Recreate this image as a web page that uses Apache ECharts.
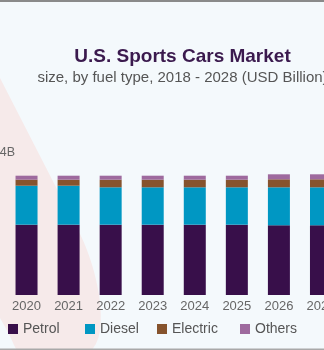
<!DOCTYPE html>
<html>
<head>
<meta charset="utf-8">
<script src="https://cdn.jsdelivr.net/npm/echarts@6/dist/echarts.min.js"></script>
<style>
  html, body { margin: 0; padding: 0; background: #f4f9fc; }
  #chart { width: 324px; height: 350px; }
</style>
</head>
<body>
<div id="chart"></div>
<script>
// Market size by fuel type, USD billion
const years = ['2020', '2021', '2022', '2023', '2024', '2025', '2026', '2027'];
const petrol = [7.03, 7.03, 7.03, 7.03, 7.03, 7.03, 6.97, 6.97];
const diesel = [3.9, 3.9, 3.74, 3.74, 3.74, 3.74, 3.8, 3.8];
const electric = [0.6, 0.6, 0.76, 0.76, 0.76, 0.76, 0.8, 0.8];
const others = [0.4, 0.4, 0.4, 0.4, 0.4, 0.4, 0.5, 0.5];

const seriesNames = ['Petrol', 'Diesel', 'Electric', 'Others'];
const seriesColors = ['#380f4a', '#0097c3', '#86532d', '#9e6a9e'];
const seriesData = [petrol, diesel, electric, others];
const legendLeft = [8, 85, 157, 240];

const FONT = '"Liberation Sans", Arial, sans-serif';

// Decorative teardrop shape in the background, traced from cubic segments
function bezierPoints(p0, p1, p2, p3, n) {
  const out = [];
  for (let k = 1; k <= n; k++) {
    const t = k / n, u = 1 - t;
    out.push([
      u*u*u*p0[0] + 3*u*u*t*p1[0] + 3*u*t*t*p2[0] + t*t*t*p3[0],
      u*u*u*p0[1] + 3*u*u*t*p1[1] + 3*u*t*t*p2[1] + t*t*t*p3[1]
    ]);
  }
  return out;
}
const dropPoints = [[-40, 0], [80, 234]]
  .concat(bezierPoints([80, 234], [92, 258], [104, 300], [100, 330], 16))
  .concat(bezierPoints([100, 330], [96, 372], [28, 382], [14, 345], 16))
  .concat(bezierPoints([14, 345], [6, 326], [-8, 305], [-20, 285], 10));

const chart = echarts.init(document.getElementById('chart'), null, { renderer: 'canvas' });

chart.setOption({
  backgroundColor: '#f4f9fc',
  animation: false,
  textStyle: { fontFamily: FONT },
  graphic: [
    {
      type: 'polygon',
      z: -10,
      silent: true,
      shape: { points: dropPoints },
      style: { fill: '#f6eaea' }
    },
    {
      type: 'rect', silent: true,
      shape: { x: 0, y: 0, width: 324, height: 2 },
      style: { fill: '#8a8a8a' }
    },
    {
      type: 'rect', silent: true,
      shape: { x: 0, y: 348.5, width: 324, height: 1.5 },
      style: { fill: '#a9a9a9' }
    },
    {
      type: 'text', silent: true,
      style: {
        x: 182.5, y: 57, text: 'U.S. Sports Cars Market',
        font: 'bold 19px ' + FONT, fill: '#3b1a4e',
        textAlign: 'center', textVerticalAlign: 'middle'
      }
    },
    {
      type: 'text', silent: true,
      style: {
        x: 182.5, y: 77.5, text: 'size, by fuel type, 2018 - 2028 (USD Billion)',
        font: '15px ' + FONT, fill: '#555555',
        textAlign: 'center', textVerticalAlign: 'middle'
      }
    },
    {
      type: 'text', silent: true,
      style: {
        x: 15, y: 153, text: '34B',
        font: '12.5px ' + FONT, fill: '#666666',
        textAlign: 'right', textVerticalAlign: 'middle'
      }
    }
  ],
  legend: seriesNames.map((name, i) => ({
    data: [name],
    left: legendLeft[i],
    top: 322,
    itemWidth: 10,
    itemHeight: 10,
    itemGap: 0,
    icon: 'rect',
    textStyle: { fontSize: 14, color: '#555555', fontFamily: FONT },
    padding: 0,
    selectedMode: false
  })),
  grid: {
    left: 5.5, width: 336.5, top: 95, bottom: 55,
    containLabel: false, outerBoundsMode: 'none'
  },
  xAxis: {
    type: 'category',
    data: years,
    axisLine: { show: false },
    axisTick: { show: false },
    axisLabel: { margin: 5, fontSize: 13, color: '#666666', fontFamily: FONT, interval: 0 }
  },
  yAxis: {
    type: 'value', min: 0, max: 20, show: false,
    splitLine: { show: false }
  },
  series: seriesNames.map((name, i) => ({
    name: name,
    type: 'bar',
    stack: 'total',
    barWidth: 22,
    data: seriesData[i],
    itemStyle: { color: seriesColors[i] }
  }))
});
</script>
</body>
</html>
